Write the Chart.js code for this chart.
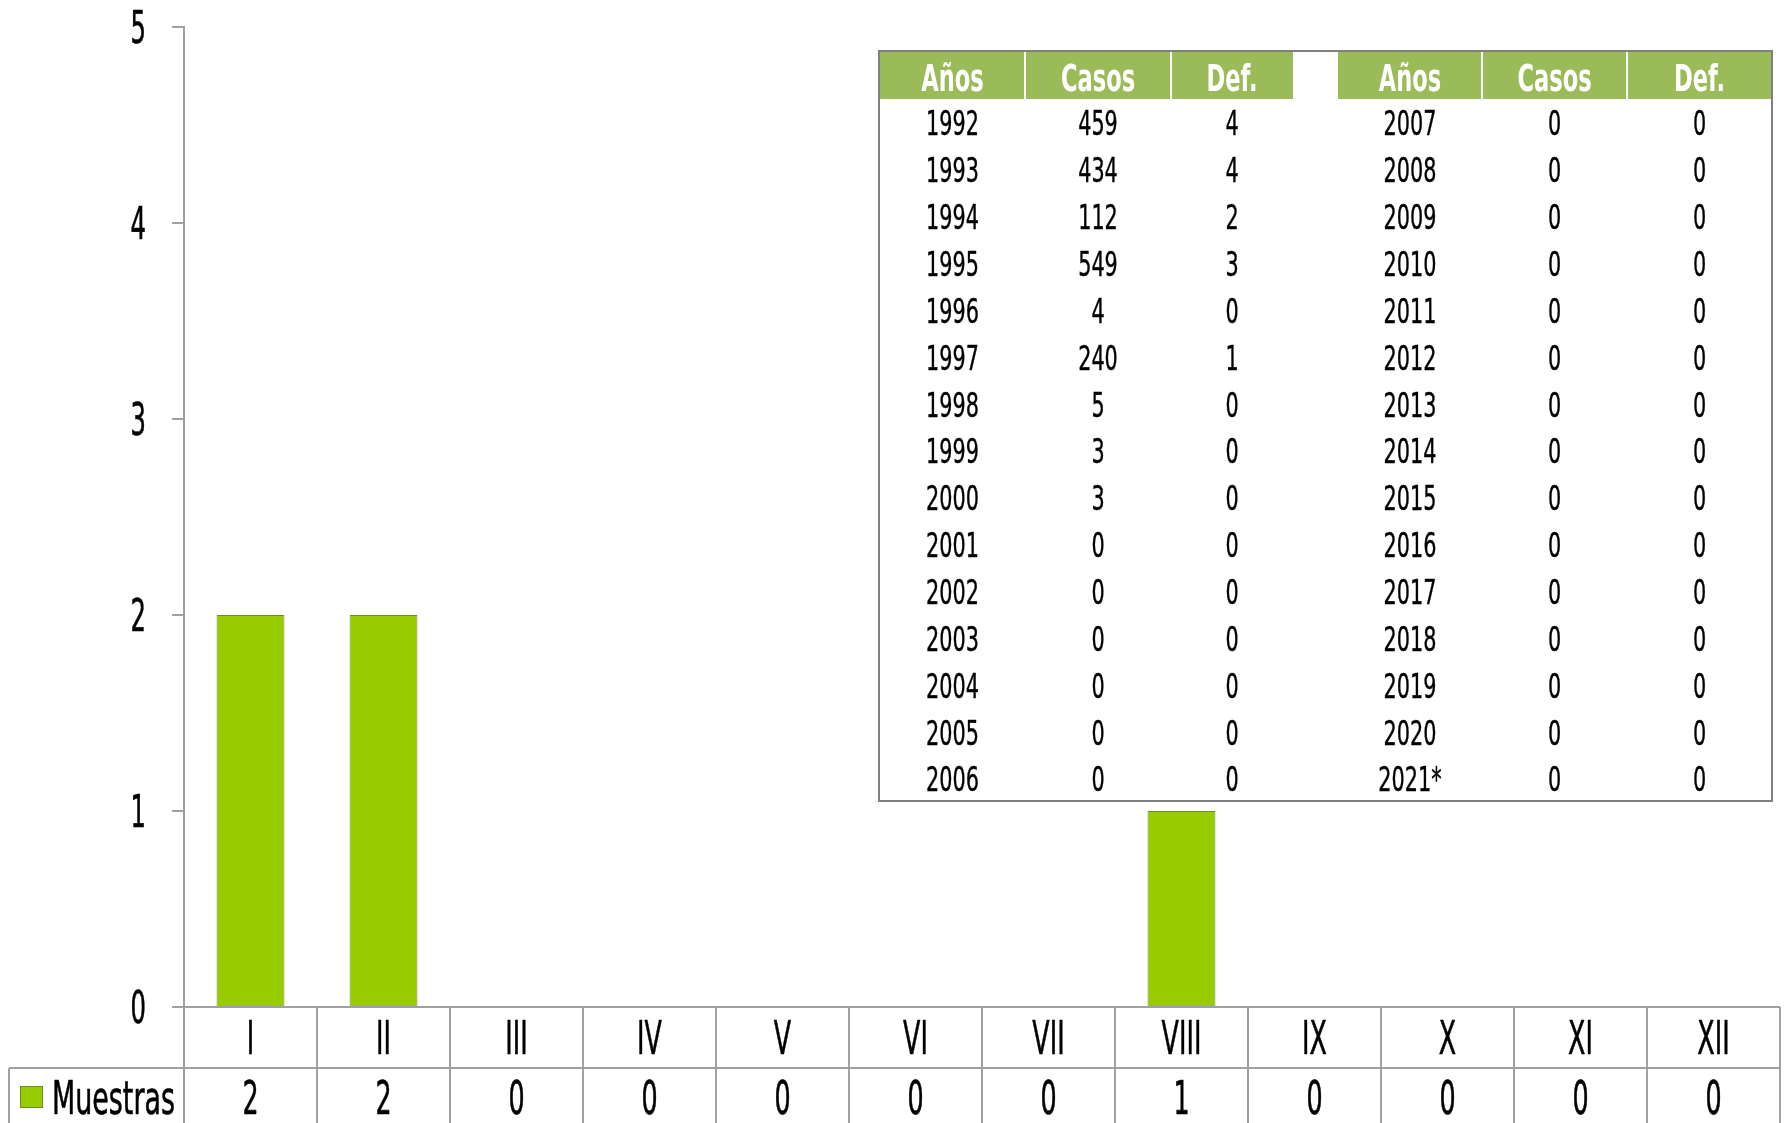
<!DOCTYPE html>
<html><head><meta charset="utf-8">
<script src="https://cdn.jsdelivr.net/npm/chart.js@4"></script>
<style>html,body{margin:0;padding:0;background:#fff;overflow:hidden}</style>
</head><body>
<canvas id="c" width="1786" height="1123"></canvas>
<script>
// ---- data ----
const categories = ['I','II','III','IV','V','VI','VII','VIII','IX','X','XI','XII'];
const muestras = [2,2,0,0,0,0,0,1,0,0,0,0];
const seriesLabel = 'Muestras';
const yMin = 0, yMax = 5, yStep = 1;
const tableHeaders = ['Años','Casos','Def.'];
const years1 = ['1992','1993','1994','1995','1996','1997','1998','1999','2000','2001','2002','2003','2004','2005','2006'];
const casos1 = [459,434,112,549,4,240,5,3,3,0,0,0,0,0,0];
const def1   = [4,4,2,3,0,1,0,0,0,0,0,0,0,0,0];
const years2 = ['2007','2008','2009','2010','2011','2012','2013','2014','2015','2016','2017','2018','2019','2020','2021*'];
const casos2 = [0,0,0,0,0,0,0,0,0,0,0,0,0,0,0];
const def2   = [0,0,0,0,0,0,0,0,0,0,0,0,0,0,0];

// ---- styles ----
const FONT = '"DejaVu Sans Condensed","Liberation Sans Narrow","Liberation Sans",sans-serif';
const GRAY = '#A0A0A0';
const BAR = '#99CC00';
const BAR_BORDER = '#6B8E23';
const HEAD = '#9BBB59';

function txt(ctx, s, x, y, size, sx, opts) {
  opts = opts || {};
  ctx.save();
  ctx.font = (opts.bold ? 'bold ' : '') + size + 'px ' + FONT;
  ctx.fillStyle = opts.color || '#000';
  ctx.strokeStyle = opts.color || '#000';
  ctx.lineWidth = opts.weight || 0.4;
  ctx.lineJoin = 'round';
  ctx.textAlign = opts.align || 'center';
  ctx.textBaseline = 'alphabetic';
  ctx.translate(x, y + 0.729 * size / 2);
  ctx.scale(sx, 1);
  ctx.fillText(s, 0, 0);
  if (!opts.bold) ctx.strokeText(s, 0, 0);
  ctx.restore();
}
function line(ctx, x1, y1, x2, y2, color, w) {
  ctx.save();
  ctx.strokeStyle = color; ctx.lineWidth = w;
  ctx.beginPath(); ctx.moveTo(x1, y1); ctx.lineTo(x2, y2); ctx.stroke();
  ctx.restore();
}

const decor = {
  id: 'decor',
  afterDraw(chart) {
    const ctx = chart.ctx, ca = chart.chartArea, xs = chart.scales.x, ys = chart.scales.y;
    // y tick labels
    ys.ticks.forEach(t => {
      txt(ctx, String(t.value), ca.left - 38, ys.getPixelForValue(t.value), 45, 0.6, {align: 'right', weight: 0.6});
    });
    // data table under the axis
    const n = categories.length;
    const y0 = ca.bottom, y1 = y0 + 61, yEnd = chart.height;
    const legendLeft = 9;
    const bounds = [];
    for (let i = 0; i <= n; i++) {
      if (i === 0) bounds.push(ca.left);
      else if (i === n) bounds.push(ca.right);
      else bounds.push((xs.getPixelForValue(i - 1) + xs.getPixelForValue(i)) / 2);
    }
    line(ctx, ca.left, y0, ca.right, y0, GRAY, 2);
    line(ctx, legendLeft, y1, ca.right, y1, GRAY, 2);
    bounds.forEach(b => line(ctx, b, y0, b, yEnd, GRAY, 2));
    line(ctx, legendLeft, y1, legendLeft, yEnd, GRAY, 2);
    for (let i = 0; i < n; i++) {
      const cx = xs.getPixelForValue(i);
      txt(ctx, categories[i], cx, y0 + 30, 47, 0.6, {weight: 0.6});
      txt(ctx, String(muestras[i]), cx, y1 + 29, 47, 0.6, {weight: 0.6});
    }
    // legend key
    ctx.save();
    ctx.fillStyle = BAR; ctx.fillRect(20, 1086, 23, 22);
    ctx.strokeStyle = BAR_BORDER; ctx.lineWidth = 1; ctx.strokeRect(20.5, 1086.5, 22, 21);
    ctx.restore();
    txt(ctx, seriesLabel, 52, 1097, 46, 0.65, {align: 'left', weight: 0.6});

    // inset table
    const tL = 879, tT = 51, tR = 1772, tB = 801, hB = 99;
    ctx.save();
    ctx.fillStyle = '#fff'; ctx.fillRect(tL, tT, tR - tL, tB - tT);
    const cells = [[880,1025],[1025,1171],[1171,1293],[1338,1482],[1482,1627],[1627,1772]];
    ctx.fillStyle = HEAD;
    cells.forEach(c => ctx.fillRect(c[0], tT, c[1] - c[0], hB - tT));
    ctx.restore();
    [1025, 1171, 1482, 1627].forEach(xv => line(ctx, xv, tT, xv, hB, '#fff', 2));
    ctx.save();
    ctx.strokeStyle = '#808080'; ctx.lineWidth = 2;
    ctx.strokeRect(tL, tT, tR - tL, tB - tT);
    ctx.restore();
    const centers = cells.map(c => (c[0] + c[1]) / 2);
    for (let k = 0; k < 6; k++) {
      txt(ctx, tableHeaders[k % 3], centers[k], 77, 38, 0.66, {bold: true, color: '#fff'});
    }
    const cols = [years1, casos1, def1, years2, casos2, def2];
    const rowH = (778 - 122) / 14;
    for (let r = 0; r < years1.length; r++) {
      const cy = 123 + r * rowH;
      for (let k = 0; k < 6; k++) txt(ctx, String(cols[k][r]), centers[k], cy, 34, 0.68);
    }
  }
};

new Chart(document.getElementById('c'), {
  type: 'bar',
  data: {
    labels: categories,
    datasets: [{
      label: seriesLabel, data: muestras,
      backgroundColor: BAR, borderColor: BAR_BORDER, borderWidth: 1,
      categoryPercentage: 1, barPercentage: 0.51
    }]
  },
  options: {
    responsive: false, animation: false,
    layout: {padding: {left: 0, right: 6, top: 27, bottom: 116}},
    plugins: {legend: {display: false}, tooltip: {enabled: false}},
    scales: {
      x: {display: false},
      y: {
        min: yMin, max: yMax,
        ticks: {stepSize: yStep, display: false},
        grid: {drawOnChartArea: false, drawTicks: true, tickLength: 12, color: GRAY, lineWidth: 2},
        border: {display: true, color: GRAY, width: 2},
        afterFit: s => { s.width = 184; }
      }
    }
  },
  plugins: [decor]
});
</script>
</body></html>
